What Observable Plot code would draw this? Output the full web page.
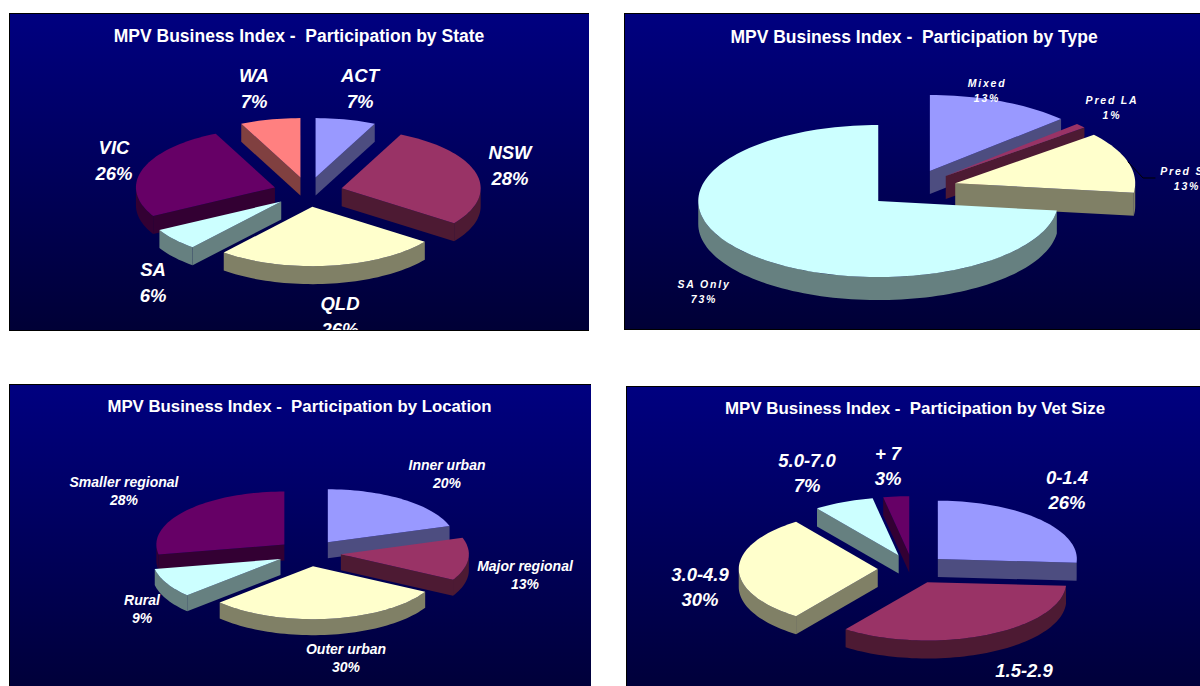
<!DOCTYPE html>
<html>
<head>
<meta charset="utf-8">
<script src="https://cdn.jsdelivr.net/npm/d3@7"></script>
<script src="https://cdn.jsdelivr.net/npm/@observablehq/plot@0.6"></script>
<style>
html,body{margin:0;padding:0;background:#fff;width:1200px;height:686px;overflow:hidden}
.panel{position:absolute;overflow:hidden;box-sizing:border-box;background:linear-gradient(#000080,#000036)}
.panel svg{display:block;position:absolute;left:0;top:0;max-width:none}
#p2 g[font-style="italic"]{letter-spacing:1.8px}
</style>
</head>
<body>
<div id="root"></div>
<script>
// Data
const stateNames = ["ACT", "NSW", "QLD", "SA", "VIC", "WA"];
const stateValues = [7, 28, 26, 6, 26, 7];
const typeNames = ["Mixed", "Pred LA", "Pred SA", "SA Only"];
const typeValues = [13, 1, 13, 73];
const locationNames = ["Inner urban", "Major regional", "Outer urban", "Rural", "Smaller regional"];
const locationValues = [20, 13, 30, 9, 28];
const sizeNames = ["0-1.4", "1.5-2.9", "3.0-4.9", "5.0-7.0", "+ 7"];
const sizeValues = [26, 34, 30, 7, 3];

// Styles
const topColors = ["#9999FF", "#993366", "#FFFFCC", "#CCFFFF", "#660066", "#FF8080"];
const wallColors = ["#4D4D80", "#4D1A33", "#808066", "#668080", "#330033", "#804040"];
const FONT = "Liberation Sans, Arial, sans-serif";

// Label placement, kept apart from the data
const stateLabelX = [360, 510, 340, 153, 114, 254];
const stateLabelY = [86.5, 163.5, 314.5, 280.5, 158.5, 86.5];
const typeLabelX = [987, 1112, 1187, 704];
const typeLabelY = [89, 106, 177, 290];
const locationLabelX = [447, 525, 346, 142, 124];
const locationLabelY = [472.5, 573.5, 656.5, 607.5, 489.5];
const sizeLabelX = [1067, 1024, 700, 807, 888];
const sizeLabelY = [488, 681, 585, 471, 464];

const panels = [
  {id:"p1", title:"MPV Business Index -  Participation by State", names:stateNames, values:stateValues, lx:stateLabelX, ly:stateLabelY,
   box:[9,13,580,318], titleX:299, titleY:36, tfs:17.5, cx:308, cy:191.5, rx:139, ry:59.4, depth:18, fs:18.5, lh:1.37},
  {id:"p2", title:"MPV Business Index -  Participation by Type", names:typeNames, values:typeValues, lx:typeLabelX, ly:typeLabelY,
   box:[624,13,576,317], titleX:914, titleY:37, tfs:17.5, cx:912, cy:188, rx:180, ry:76, depth:23, fs:10.5, lh:1.4, leader:2},
  {id:"p3", title:"MPV Business Index -  Participation by Location", names:locationNames, values:locationValues, lx:locationLabelX, ly:locationLabelY,
   box:[9,384,582,318], titleX:299.5, titleY:406, tfs:16.8, cx:309, cy:552.5, rx:128, ry:53, depth:16, fs:14, lh:1.3},
  {id:"p4", title:"MPV Business Index -  Participation by Vet Size", names:sizeNames, values:sizeValues, lx:sizeLabelX, ly:sizeLabelY,
   box:[626,386,574,318], titleX:915, titleY:408, tfs:16.9, cx:912.5, cy:568.5, rx:139, ry:58.3, depth:18, fs:18.5, lh:1.35}
];

const TAU = Math.PI * 2;
function buildSlices(p) {
  const total = d3.sum(p.values);
  const explode = 0.25;
  let acc = 0;
  return p.values.map((v, i) => {
    const a0 = acc / total * TAU; acc += v;
    const a1 = acc / total * TAU, mid = (a0 + a1) / 2;
    const ox = p.cx + explode * p.rx * Math.sin(mid);
    const oy = p.cy - explode * p.ry * Math.cos(mid);
    return {i, a0, a1, mid, ox, oy};
  });
}
function pt(p, s, a, z) {
  return [s.ox + p.rx * Math.sin(a), s.oy - p.ry * Math.cos(a) + z];
}
function arc(a0, a1) {
  const n = Math.max(1, Math.ceil((a1 - a0) / (TAU / 180)));
  return d3.range(n + 1).map(k => a0 + (a1 - a0) * k / n);
}
function polygons(p) {
  const rows = [];
  let id = 0;
  const add = (coords, fill) => { id++; coords.forEach(([x, y]) => rows.push({x, y, id, fill})); };
  const slices = buildSlices(p).sort((a, b) => a.oy - b.oy);
  for (const s of slices) {
    const wall = wallColors[s.i], top = topColors[s.i], d = p.depth, O = [s.ox, s.oy], Od = [s.ox, s.oy + d];
    if (Math.sin(s.a0) < -1e-9) add([O, pt(p, s, s.a0, 0), pt(p, s, s.a0, d), Od], wall);
    if (Math.sin(s.a1) > 1e-9) add([O, pt(p, s, s.a1, 0), pt(p, s, s.a1, d), Od], wall);
    const lo = Math.max(s.a0, TAU / 4), hi = Math.min(s.a1, TAU * 3 / 4);
    if (hi > lo) {
      const as = arc(lo, hi);
      add([...as.map(a => pt(p, s, a, 0)), ...as.slice().reverse().map(a => pt(p, s, a, d))], wall);
    }
    add([O, ...arc(s.a0, s.a1).map(a => pt(p, s, a, 0))], top);
  }
  return rows;
}

const root = document.getElementById("root");
for (const p of panels) {
  const [left, top, w, h] = p.box;
  const div = document.createElement("div");
  div.className = "panel";
  div.id = p.id;
  div.style.cssText = `left:${left}px;top:${top}px;width:${w}px;height:${h}px;` +
    `border-top:1px solid #000;border-left:1px solid #000;` + (top + h < 686 ? "border-bottom:1px solid #000;" : "");
  const marks = [
    Plot.line(polygons(p), {x:"x", y:"y", z:"id", fill:"fill", stroke:"none"})
  ];
  if (p.leader !== undefined) {
    const s = buildSlices(p)[p.leader];
    const [sx, sy] = pt(p, s, s.mid, 0);
    marks.push(Plot.line([[sx, sy], [sx + 15, sy + 16], [sx + 27, sy + 16]], {stroke:"#000", strokeWidth:1}));
  }
  const labels = p.names.map((n, i) => ({x:p.lx[i], y:p.ly[i], text:`${n}\n${p.values[i]}%`}));
  marks.push(Plot.text(labels, {x:"x", y:"y", text:"text", fill:"#fff", fontSize:p.fs, fontWeight:"bold", fontStyle:"italic", fontFamily:FONT, lineHeight:p.lh}));
  marks.push(Plot.text([p.title], {x:[p.titleX], y:[p.titleY], text:d => d, fill:"#fff", fontSize:p.tfs, fontWeight:"bold", fontFamily:FONT}));
  const chart = Plot.plot({
    width:w, height:h, margin:0,
    x:{domain:[left + 1.5, left + 1.5 + w], range:[0, w], axis:null},
    y:{domain:[top + 1, top + 1 + h], range:[0, h], axis:null},
    color:{type:"identity"},
    style:{background:"transparent", overflow:"hidden"},
    marks
  });
  div.appendChild(chart);
  root.appendChild(div);
}
</script>
</body>
</html>
